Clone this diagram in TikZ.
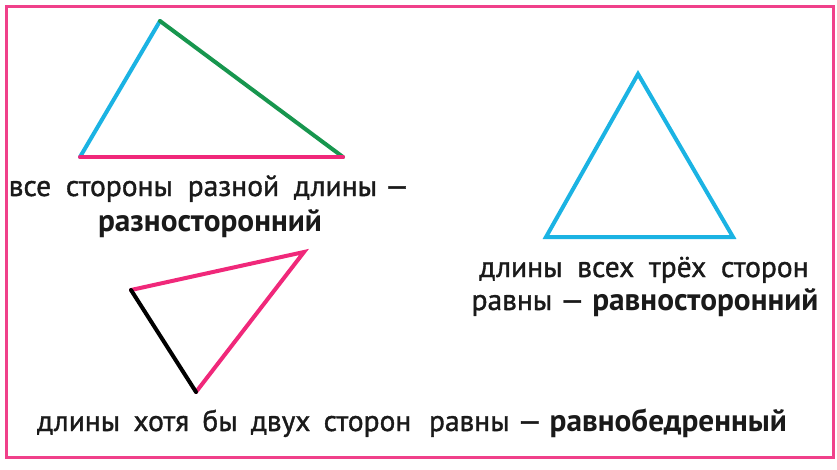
\documentclass[tikz,border=0pt]{standalone}
\usepackage{fontspec}
\setmainfont{PT Sans}[FakeBold=1.2]
\newfontfamily\boldface{PT Sans Bold}[Scale=1.06]
\definecolor{tcyan}{HTML}{1BB3E3}
\definecolor{tgreen}{HTML}{17964E}
\definecolor{tpink}{HTML}{F0287A}
\definecolor{tframe}{HTML}{F0408A}
\definecolor{ttext}{HTML}{1A1A1A}
\begin{document}
\begin{tikzpicture}[x=1pt,y=-1pt,
  side/.style={line width=4pt,line cap=round},
  lbl/.style={font=\fontsize{29.5}{32}\selectfont,text=ttext,inner sep=0pt,anchor=base}]
\useasboundingbox (0,0) rectangle (837,469);
\node[draw=tframe,line width=3pt,minimum width=827pt,minimum height=451pt,anchor=north west,inner sep=0pt] (frame) at (5,5) {};
% triangle 1
\coordinate (a1) at (160,21);
\coordinate (b1) at (80,157);
\coordinate (c1) at (343,157);
\draw[side,tcyan] (b1) -- (a1);
\draw[side,tgreen] (a1) -- (c1);
\draw[side,tpink] (b1) -- (c1);
% triangle 2
\coordinate (a2) at (638,74);
\coordinate (b2) at (546,237);
\coordinate (c2) at (733,237);
\draw[side,tcyan] (a2) -- (b2) -- (c2) -- cycle;
% triangle 3
\coordinate (a3) at (304,252);
\coordinate (b3) at (131,290);
\coordinate (c3) at (196,392);
\draw[side,tpink] (b3) -- (a3) -- (c3);
\draw[side,black] (b3) -- (c3);
% labels
\node[lbl] (t1) at (209,196) {все\hspace{0.5em}стороны\hspace{0.5em}разной\hspace{0.5em}длины~—};
\node[lbl] (t2) at (210,231) {\boldface разносторонний};
\node[lbl] (t3) at (644,277) {длины\hspace{0.5em}всех\hspace{0.5em}трёх\hspace{0.5em}сторон};
\node[lbl] (t4) at (645,310) {равны — {\boldface равносторонний}};
\node[lbl] (t5) at (412,431) {длины\hspace{0.45em}хотя\hspace{0.45em}бы\hspace{0.45em}двух\hspace{0.45em}сторон\hspace{0.6em}равны — {\boldface равнобедренный}};
\end{tikzpicture}
\end{document}
